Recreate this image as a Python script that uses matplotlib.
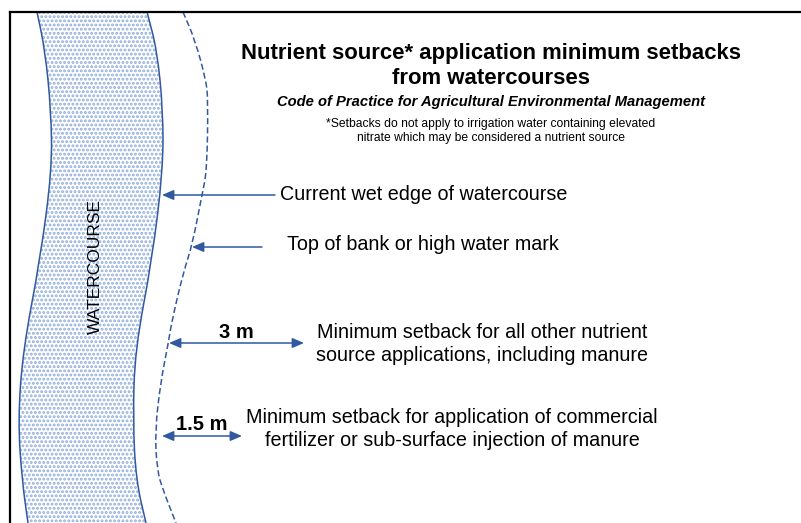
import matplotlib.pyplot as plt
from matplotlib.path import Path
from matplotlib.patches import PathPatch

plt.rcParams['font.family'] = ['Liberation Sans', 'DejaVu Sans']
plt.rcParams['hatch.linewidth'] = 1.4

# watercourse edges and top of bank line (x, y in pixels)
stream_y = [12, 50, 110, 170, 260, 350, 420, 480, 523]
stream_left = [37, 45, 51, 52, 40, 23, 18, 22, 28]
stream_right = [147, 157, 163, 163, 152, 135, 133, 136, 146]

bank_y = [12, 40, 80, 100, 170, 195, 246, 270, 320, 345, 380, 430, 470, 490, 523]
bank_x = [183, 195, 206, 208, 207, 202, 192, 184, 172, 168, 161, 155, 157, 163, 176]

# labels and the arrows pointing at the lines
edge_labels = ['Current wet edge of watercourse', 'Top of bank or high water mark']
edge_tips = [(162, 195), (192, 247)]
edge_tails = [(275, 195), (262, 247)]
edge_text_pos = [(280, 195), (287, 245)]

setback_labels = ['3 m', '1.5 m']
setback_arrows = [(169, 304, 343), (162, 242, 436)]
setback_text = ['Minimum setback for all other nutrient\nsource applications, including manure',
                'Minimum setback for application of commercial\nfertilizer or sub-surface injection of manure']
setback_text_pos = [(482, 344), (452, 429)]

blue = '#3159a0'


def smooth(xs, ys):
    # quadratic curves through the midpoints, read points as control points
    pts = list(zip(xs, ys))
    verts = [pts[0]]
    codes = [Path.MOVETO]
    verts.append(((pts[0][0] + pts[1][0]) / 2, (pts[0][1] + pts[1][1]) / 2))
    codes.append(Path.LINETO)
    for i in range(1, len(pts) - 1):
        mid = ((pts[i][0] + pts[i + 1][0]) / 2, (pts[i][1] + pts[i + 1][1]) / 2)
        verts += [pts[i], mid]
        codes += [Path.CURVE3, Path.CURVE3]
    verts.append(pts[-1])
    codes.append(Path.LINETO)
    return verts, codes


fig = plt.figure(figsize=(8.01, 5.23), dpi=100)
ax = fig.add_axes([0, 0, 1, 1])
ax.set_xlim(0, 801)
ax.set_ylim(523, 0)
ax.axis('off')

# frame: top and left only
ax.plot([10, 801], [12, 12], color='black', lw=1.6, solid_capstyle='projecting')
ax.plot([10, 10], [12, 523], color='black', lw=1.6, solid_capstyle='projecting')

lv, lc = smooth(stream_left, stream_y)
rv, rc = smooth(stream_right[::-1], stream_y[::-1])
rc[0] = Path.LINETO
fill_path = Path(lv + rv + [lv[0]], lc + rc + [Path.CLOSEPOLY])
ax.add_patch(PathPatch(fill_path, facecolor='white', edgecolor='#90acdf', hatch='....', linewidth=0))

ax.add_patch(PathPatch(Path(*smooth(stream_left, stream_y)), fill=False, edgecolor=blue, lw=1.1))
ax.add_patch(PathPatch(Path(*smooth(stream_right, stream_y)), fill=False, edgecolor=blue, lw=1.1))
ax.add_patch(PathPatch(Path(*smooth(bank_x, bank_y)), fill=False, edgecolor=blue, lw=1.1,
                       linestyle=(0, (4, 2))))

ax.text(95, 267, 'WATERCOURSE', rotation=90, ha='center', va='center', fontsize=12.5, color='black')

ax.text(491, 54, 'Nutrient source* application minimum setbacks', ha='center', va='center',
        fontsize=15.9, fontweight='bold')
ax.text(491, 79, 'from watercourses', ha='center', va='center', fontsize=15.9, fontweight='bold')
ax.text(491, 102, 'Code of Practice for Agricultural Environmental Management', ha='center', va='center',
        fontsize=10.6, fontweight='bold', style='italic')
ax.text(491, 131, '*Setbacks do not apply to irrigation water containing elevated\nnitrate which may be considered a nutrient source',
        ha='center', va='center', fontsize=8.7, linespacing=1.3)

for label, tip, tail, pos in zip(edge_labels, edge_tips, edge_tails, edge_text_pos):
    ax.annotate('', xy=tip, xytext=tail,
                arrowprops=dict(arrowstyle='-|>,head_length=0.7,head_width=0.3', color=blue, lw=1.1,
                                shrinkA=0, shrinkB=0))
    ax.text(pos[0], pos[1], label, ha='left', va='center', fontsize=14.2)

for label, (x0, x1, y), txt, pos in zip(setback_labels, setback_arrows, setback_text, setback_text_pos):
    ax.annotate('', xy=(x0, y), xytext=(x1, y),
                arrowprops=dict(arrowstyle='<|-|>,head_length=0.7,head_width=0.3', color=blue, lw=1.1,
                                shrinkA=0, shrinkB=0))
    ax.text((x0 + x1) / 2, y - 11, label, ha='center', va='center', fontsize=14.5, fontweight='bold')
    ax.text(pos[0], pos[1], txt, ha='center', va='center', fontsize=14.2, linespacing=1.25)

fig.savefig('out.png', dpi=100)
